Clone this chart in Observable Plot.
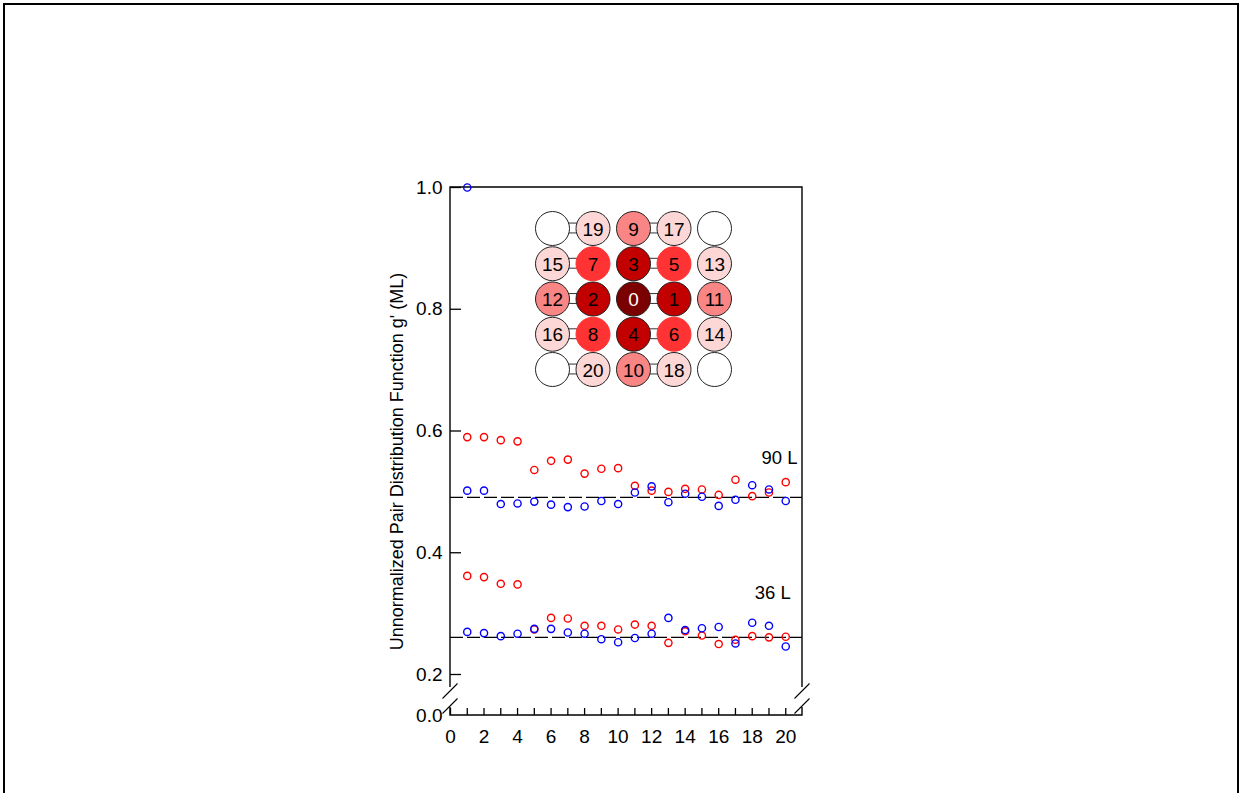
<!DOCTYPE html>
<html>
<head>
<meta charset="utf-8">
<script src="https://cdn.jsdelivr.net/npm/d3@7"></script>
<script src="https://cdn.jsdelivr.net/npm/@observablehq/plot@0.6"></script>
<style>
  html, body { margin: 0; padding: 0; background: white; }
  #wrap { position: relative; width: 1243px; height: 793px; overflow: hidden; }
  #border { position: absolute; left: 3px; top: 3px; width: 1236px; height: 820px; border: 2px solid black; box-sizing: border-box; }
  #main, #inset { position: absolute; }
  #main { left: 0; top: 0; }
  #inset { left: 530px; top: 205px; }
  svg { font-family: "Liberation Sans", Arial, sans-serif; }
</style>
</head>
<body>
<div id="wrap"><div id="border"></div><div id="main"></div><div id="inset"></div></div>
<script>
// ---- data ----
const neighbor = [1,2,3,4,5,6,7,8,9,10,11,12,13,14,15,16,17,18,19,20];
const red90  = [0.590,0.590,0.585,0.583,0.536,0.551,0.553,0.530,0.538,0.539,0.510,0.502,0.500,0.505,0.504,0.495,0.520,0.493,0.499,0.516];
const blue90 = [0.502,0.502,0.480,0.481,0.484,0.479,0.475,0.476,0.485,0.480,0.499,0.509,0.483,0.497,0.492,0.477,0.487,0.511,0.504,0.485];
const red36  = [0.362,0.360,0.349,0.348,0.274,0.293,0.292,0.280,0.280,0.274,0.282,0.280,0.252,0.271,0.264,0.250,0.257,0.263,0.261,0.262];
const blue36 = [0.270,0.268,0.263,0.267,0.275,0.275,0.269,0.267,0.258,0.253,0.260,0.267,0.293,0.273,0.276,0.278,0.251,0.285,0.280,0.246];
const extraX = [1];
const extraY = [1.0];
const refLevels = [0.491, 0.261];
const doseLabels = ["90 L", "36 L"];
const doseLabelX = [20.7, 20.3];
const doseLabelY = [0.555, 0.333];
const yTickValues = [0.0, 0.2, 0.4, 0.6, 0.8, 1.0];
const xTickValues = [0,1,2,3,4,5,6,7,8,9,10,11,12,13,14,15,16,17,18,19,20];
const xLabelValues = [0,2,4,6,8,10,12,14,16,18,20];
const yLabel = "Unnormalized Pair Distribution Function g' (ML)";

// inset lattice (rows top to bottom)
const latticeRows = [
  ["", "19", "9", "17", ""],
  ["15", "7", "3", "5", "13"],
  ["12", "2", "0", "1", "11"],
  ["16", "8", "4", "6", "14"],
  ["", "20", "10", "18", ""]
];
const shellColors = ["#7b0000", "#c20000", "#ff3333", "#f98585", "#fdd6d6", "#ffffff"];
const shellOf = (lab) => lab === "" ? 5 : (+lab === 0 ? 0 : +lab <= 4 ? 1 : +lab <= 8 ? 2 : +lab <= 12 ? 3 : 4);
const bondCols = [0, 2];

// ---- build tables ----
const pts = (xs, ys, color) => xs.map((x, i) => ({x, y: ys[i], color}));
const redPts = [...pts(neighbor, red90, "red"), ...pts(neighbor, red36, "red")];
const bluePts = [...pts(neighbor, blue90, "blue"), ...pts(neighbor, blue36, "blue"), ...pts(extraX, extraY, "blue")];
const doseTable = doseLabels.map((t, i) => ({t, x: doseLabelX[i], y: doseLabelY[i]}));

const W = 1243, H = 793;
const mL = 450, mR = W - 802, mT = 187, mB = H - 715;

function frameMark(index, scales) {
  const x0 = scales.x(0), x1 = scales.x(21), yt = scales.y(1), yb = scales.y(0);
  const g = d3.create("svg:g").attr("fill", "none").attr("stroke", "black").attr("stroke-width", 1.4);
  const gapTop = yb - 28, gapBot = yb - 8;
  g.append("path").attr("d",
    `M${x0},${gapTop}V${yt}H${x1}V${gapTop}M${x0},${gapBot}V${yb}H${x1}V${gapBot}`);
  for (const xx of [x0, x1]) {
    for (const yy of [yb - 24, yb - 9]) {
      g.append("line").attr("x1", xx - 7.5).attr("y1", yy + 7.5).attr("x2", xx + 7.5).attr("y2", yy - 7.5).attr("stroke-width", 1.1);
    }
  }
  return g.node();
}

const frameH = 715 - 187, frameW = 802 - 450;

const main = Plot.plot({
  width: W, height: H,
  marginLeft: mL, marginRight: mR, marginTop: mT, marginBottom: mB,
  style: {fontFamily: "Liberation Sans, Arial, sans-serif", fontSize: "19px", background: "transparent"},
  x: {type: "linear", domain: [0, 21]},
  y: {type: "linear", domain: [0, 0.2, 1], range: [715, 674, 187]},
  marks: [
    Plot.ruleY(refLevels, {stroke: "black", strokeWidth: 1.3, strokeDasharray: "13,4"}),
    Plot.tickY(yTickValues.filter(d => d > 0), {y: d => d, insetRight: frameW - 11, stroke: "black", strokeWidth: 1.3}),
    Plot.tickX(xTickValues, {x: d => d, insetTop: frameH - 7, stroke: "black", strokeWidth: 1.3}),
    Plot.axisY(yTickValues, {tickSize: 0, tickPadding: 8, tickFormat: d3.format(".1f"), fontSize: 19, fill: "black", label: null}),
    Plot.axisX(xLabelValues, {tickSize: 0, tickPadding: 14, tickFormat: d => String(d), fontSize: 19, fill: "black", label: null}),
    frameMark,
    Plot.dot(redPts, {x: "x", y: "y", r: 3.6, stroke: "#ff0000", strokeWidth: 1.4, fill: "none"}),
    Plot.dot(bluePts, {x: "x", y: "y", r: 3.6, stroke: "#0000ff", strokeWidth: 1.4, fill: "none"}),
    Plot.text(doseTable, {x: "x", y: "y", text: "t", textAnchor: "end", fontSize: 18.5, fill: "black"}),
    Plot.text([yLabel], {text: d => d, frameAnchor: "left", textAnchor: "middle", rotate: -90, dx: -53, dy: 10, fontSize: 18, fill: "black"})
  ]
});
document.getElementById("main").appendChild(main);

// inset
const cells = [];
latticeRows.forEach((row, r) => row.forEach((lab, c) => cells.push({r, c, lab, shell: shellOf(lab)})));
const bonds = [];
latticeRows.forEach((row, r) => bondCols.forEach(c => bonds.push({r, c})));

const inset = Plot.plot({
  width: 206, height: 186,
  marginLeft: 22, marginRight: 22, marginTop: 23, marginBottom: 22,
  style: {fontFamily: "Liberation Sans, Arial, sans-serif", background: "transparent"},
  x: {type: "linear", domain: [0, 4], axis: null},
  y: {type: "linear", domain: [4, 0], axis: null},
  marks: [
    Plot.rect(bonds, {x1: d => d.c + 0.5 - 0.13, x2: d => d.c + 0.5 + 0.13, y1: d => d.r - 0.14, y2: d => d.r + 0.14, fill: "white", stroke: "#333", strokeWidth: 1}),
    Plot.dot(cells, {x: "c", y: "r", r: 17, fill: d => shellColors[d.shell], stroke: d => d.shell === 2 ? shellColors[2] : "#222", strokeWidth: 1}),
    Plot.text(cells, {x: "c", y: "r", text: "lab", fontSize: 19, fill: d => d.shell === 0 ? "white" : "black", dy: 1})
  ]
});
document.getElementById("inset").appendChild(inset);
</script>
</body>
</html>
